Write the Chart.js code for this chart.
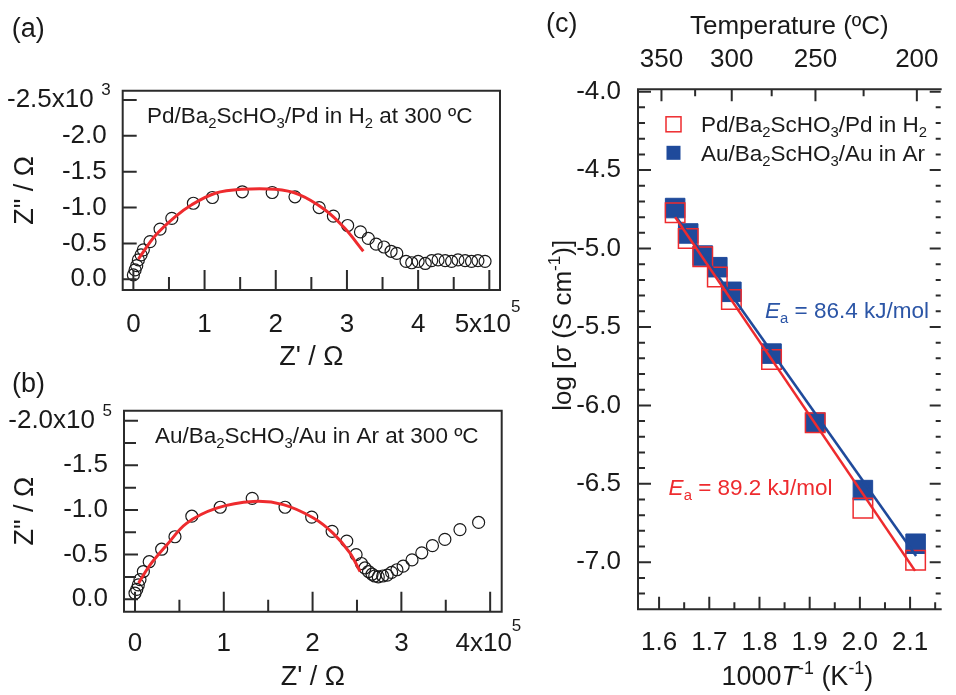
<!DOCTYPE html>
<html>
<head>
<meta charset="utf-8">
<title>Ba2ScHO3 impedance and conductivity</title>
<script src="https://cdn.jsdelivr.net/npm/chart.js@4.4.0/dist/chart.umd.min.js"></script>
<style>
  html, body { margin: 0; background: #fff; }
  #figure { position: relative; width: 956px; height: 695px; }
  #figure canvas { position: absolute; left: 0; top: 0; }
</style>
</head>
<body>
<div id="figure">
  <canvas id="chartA" width="956" height="695"></canvas>
  <canvas id="chartB" width="956" height="695"></canvas>
  <canvas id="chartC" width="956" height="695"></canvas>
</div>
<script>
// (a) Pd/Ba2ScHO3/Pd in H2 at 300 ºC  (Z' in units of 1e5, Z'' in the units printed on the axis)
const aZre = [0.00, 0.024, 0.047, 0.07, 0.108, 0.14, 0.234, 0.375, 0.54, 0.843, 1.11, 1.53, 1.95, 2.27, 2.61, 2.81, 3.01, 3.19,
  3.30, 3.41, 3.52, 3.62, 3.70, 3.83, 3.91, 4.00, 4.10, 4.19, 4.28, 4.38, 4.47, 4.56, 4.66, 4.75, 4.84, 4.94];
const aZim = [-0.06, -0.13, -0.19, -0.27, -0.34, -0.41, -0.525, -0.70, -0.85, -1.06, -1.14, -1.22, -1.21, -1.15, -1.00, -0.88, -0.75, -0.66,
  -0.57, -0.49, -0.45, -0.39, -0.36, -0.25, -0.23, -0.25, -0.22, -0.26, -0.27, -0.26, -0.25, -0.27, -0.26, -0.25, -0.26, -0.25];
const aFitRe = [0.07, 0.30, 0.585, 0.82, 1.15, 1.52, 1.99, 2.32, 2.69, 2.97, 3.23];
const aFitIm = [-0.28, -0.60, -0.87, -1.04, -1.20, -1.255, -1.255, -1.185, -0.97, -0.71, -0.39];
const aXTicks = [0, 1, 2, 3, 4, 5];
const aXMinor = [0.5, 1.5, 2.5, 3.5, 4.5];
const aYTicks = [0, -0.5, -1.0, -1.5, -2.0, -2.5];

// (b) Au/Ba2ScHO3/Au in Ar at 300 ºC
const bZre = [0.00, 0.02, 0.037, 0.056, 0.094, 0.16, 0.30, 0.45, 0.64, 0.96, 1.32, 1.69, 1.99, 2.22, 2.385, 2.49, 2.55,
  2.59, 2.63, 2.67, 2.70, 2.74, 2.79, 2.84, 2.89, 2.95, 3.02, 3.12, 3.23, 3.35, 3.49, 3.66, 3.87];
const bZim = [-0.067, -0.11, -0.16, -0.22, -0.31, -0.42, -0.56, -0.70, -0.93, -1.03, -1.13, -1.03, -0.92, -0.76, -0.65, -0.50, -0.40,
  -0.35, -0.31, -0.28, -0.26, -0.25, -0.26, -0.27, -0.30, -0.33, -0.37, -0.44, -0.52, -0.60, -0.67, -0.78, -0.86];
const bFitRe = [0.04, 0.17, 0.36, 0.58, 0.92, 1.33, 1.67, 2.01, 2.23, 2.42, 2.535];
const bFitIm = [-0.18, -0.385, -0.61, -0.85, -1.02, -1.095, -1.06, -0.91, -0.74, -0.52, -0.31];
const bXTicks = [0, 1, 2, 3, 4];
const bXMinor = [0.5, 1.5, 2.5, 3.5];
const bYTicks = [0, -0.5, -1.0, -1.5, -2.0];
const bYMinor = [-0.25, -0.75, -1.25, -1.75];

// (c) Arrhenius plot
const cInvT = [1.632, 1.658, 1.687, 1.716, 1.744, 1.824, 1.911, 2.006, 2.111];
const cLogPd = [-4.772, -4.936, -5.053, -5.181, -5.325, -5.708, -6.110, -6.655, -6.987];
const cLogAu = [-4.742, -4.904, -5.045, -5.119, -5.276, -5.670, -6.110, -6.540, -6.882];
const cFitPdX = [1.632, 2.110];
const cFitPdY = [-4.80, -7.055];
const cFitAuX = [1.632, 2.112];
const cFitAuY = [-4.79, -6.96];
const cXTicks = [1.6, 1.7, 1.8, 1.9, 2.0, 2.1];
const cXMinor = [1.65, 1.75, 1.85, 1.95, 2.05, 2.15];
const cYTicks = [-4.0, -4.5, -5.0, -5.5, -6.0, -6.5, -7.0];
const cYMinor = [-4.1, -4.2, -4.3, -4.4, -4.6, -4.7, -4.8, -4.9, -5.1, -5.2, -5.3, -5.4, -5.6, -5.7, -5.8, -5.9,
  -6.1, -6.2, -6.3, -6.4, -6.6, -6.7, -6.8, -6.9, -7.1, -7.2];
const cTempTicks = [350, 300, 250, 200];
const cTempMinor = [325, 275, 225];

const FONT = "'Liberation Sans', Arial, Helvetica, sans-serif";
const INK = "#1a1a1a";
const AXIS = "#2b2b2b";
const RED = "#ee2b2e";
const BLUE = "#1f4a9b";
const BLUE_TEXT = "#2b55a6";
const TICK_SIZE = 26;
const TITLE_SIZE = 27;
const NOTE_SIZE = 22.5;
const SP = "\u2002";

function points(xs, ys) {
  return xs.map((x, i) => ({ x, y: ys[i] }));
}

function toKelvinInverse(celsius) {
  return 1000 / (celsius + 273.15);
}

function partFont(kind, size) {
  const small = kind === "sub" || kind === "sup";
  return `${kind === "i" ? "italic " : ""}${small ? size * 0.66 : size}px ${FONT}`;
}

function drawRich(ctx, parts, x, y, size, color, align = "left") {
  ctx.save();
  ctx.fillStyle = color;
  ctx.textAlign = "left";
  ctx.textBaseline = "alphabetic";
  let width = 0;
  parts.forEach(([text, kind]) => {
    ctx.font = partFont(kind, size);
    width += ctx.measureText(text).width;
  });
  let cursor = align === "center" ? x - width / 2 : x;
  parts.forEach(([text, kind]) => {
    ctx.font = partFont(kind, size);
    const shift = kind === "sub" ? size * 0.22 : kind === "sup" ? -size * 0.42 : 0;
    ctx.fillText(text, cursor, y + shift);
    cursor += ctx.measureText(text).width;
  });
  ctx.restore();
}

function drawFrame(ctx, area, sides) {
  ctx.save();
  ctx.strokeStyle = AXIS;
  ctx.lineWidth = 2;
  ctx.lineCap = "square";
  ctx.beginPath();
  if (sides.includes("top")) { ctx.moveTo(area.left, area.top); ctx.lineTo(area.right, area.top); }
  if (sides.includes("bottom")) { ctx.moveTo(area.left, area.bottom); ctx.lineTo(area.right, area.bottom); }
  if (sides.includes("left")) { ctx.moveTo(area.left, area.top); ctx.lineTo(area.left, area.bottom); }
  if (sides.includes("right")) { ctx.moveTo(area.right, area.top); ctx.lineTo(area.right, area.bottom); }
  ctx.stroke();
  ctx.restore();
}

function innerTicks(ctx, area, scale, side, values, len) {
  ctx.save();
  ctx.strokeStyle = AXIS;
  ctx.lineWidth = 2;
  ctx.beginPath();
  values.forEach((value) => {
    const p = scale.getPixelForValue(value);
    if (side === "bottom") { ctx.moveTo(p, area.bottom); ctx.lineTo(p, area.bottom - len); }
    if (side === "top") { ctx.moveTo(p, area.top); ctx.lineTo(p, area.top + len); }
    if (side === "left") { ctx.moveTo(area.left, p); ctx.lineTo(area.left + len, p); }
    if (side === "right") { ctx.moveTo(area.right, p); ctx.lineTo(area.right - len, p); }
  });
  ctx.stroke();
  ctx.restore();
}

// the "x10^n" exponent that follows the last tick label of a panel
function supOnYTick(chart, scale, value, sup) {
  const ctx = chart.ctx;
  ctx.save();
  ctx.font = `${TICK_SIZE}px ${FONT}`;
  const gap = ctx.measureText(SP).width;
  ctx.restore();
  const x = chart.chartArea.left - scale.options.ticks.padding - gap - 0.5;
  const y = scale.getPixelForValue(value) - 5;
  drawRich(ctx, [[sup, ""]], x, y, 17, INK);
}

function supOnXTick(chart, scale, value, sup) {
  const ctx = chart.ctx;
  const tick = scale.ticks.find((t) => t.value === value);
  ctx.save();
  ctx.font = `${TICK_SIZE}px ${FONT}`;
  const full = ctx.measureText(tick.label).width;
  const base = ctx.measureText(tick.label.slice(0, -1)).width;
  ctx.restore();
  const x = scale.getPixelForValue(value) - full / 2 + base;
  const y = chart.chartArea.bottom + scale.options.ticks.padding + TICK_SIZE * 0.6 - 5;
  drawRich(ctx, [[sup, ""]], x, y, 17, INK);
}

function tickFont() {
  return { family: FONT, size: TICK_SIZE };
}

function titleFont() {
  return { family: FONT, size: TITLE_SIZE };
}

function fixedTicks(values) {
  return (scale) => { scale.ticks = values.map((value) => ({ value })); };
}

function nyquistScales(cfg) {
  return {
    x: {
      type: "linear",
      min: cfg.xMin,
      max: cfg.xMax,
      afterFit: (scale) => { scale.height = cfg.xHeight; },
      afterBuildTicks: fixedTicks(cfg.xTicks),
      grid: { display: false },
      border: { display: false },
      ticks: {
        font: tickFont(), color: INK, padding: cfg.xPad, maxRotation: 0, autoSkip: false,
        callback: (v) => (v === cfg.xTicks[cfg.xTicks.length - 1] ? `${v}x10${SP}` : String(v))
      },
      title: { display: true, text: "Z' / Ω", font: titleFont(), color: INK, padding: { top: 0, bottom: cfg.xTitlePad } }
    },
    y: {
      type: "linear",
      reverse: true,
      min: cfg.yMin,
      max: cfg.yMax,
      afterFit: (scale) => { scale.width = 115; },
      afterBuildTicks: fixedTicks(cfg.yTicks),
      grid: { display: false },
      border: { display: false },
      ticks: {
        font: tickFont(), color: INK, padding: 8, autoSkip: false,
        callback: (v) => (v === cfg.yTicks[cfg.yTicks.length - 1] ? `${v.toFixed(1)}x10${SP}` : v.toFixed(1))
      },
      title: { display: true, text: "Z\" / Ω", font: titleFont(), color: INK, padding: { top: cfg.yTitlePad, bottom: 0 } }
    }
  };
}

const commonOptions = {
  animation: false,
  responsive: false,
  events: [],
  plugins: { legend: { display: false }, tooltip: { enabled: false } }
};

const decorA = {
  id: "decorA",
  afterDraw(chart) {
    const { ctx, chartArea: area, scales: { x, y } } = chart;
    drawFrame(ctx, area, ["top", "right", "bottom", "left"]);
    innerTicks(ctx, area, x, "bottom", aXTicks, 20);
    innerTicks(ctx, area, x, "bottom", aXMinor, 13);
    innerTicks(ctx, area, y, "left", aYTicks, 14);
    supOnYTick(chart, y, -2.5, "3");
    supOnXTick(chart, x, 5, "5");
    drawRich(ctx, [["Pd/Ba", ""], ["2", "sub"], ["ScHO", ""], ["3", "sub"], ["/Pd in H", ""], ["2", "sub"], [" at 300 ºC", ""]],
      x.getPixelForValue(0.19), y.getPixelForValue(-2.18), NOTE_SIZE, INK);
    drawRich(ctx, [["(a)", ""]], area.left - 111, area.top - 54, TITLE_SIZE, INK);
  }
};

const decorB = {
  id: "decorB",
  afterDraw(chart) {
    const { ctx, chartArea: area, scales: { x, y } } = chart;
    drawFrame(ctx, area, ["top", "right", "bottom", "left"]);
    innerTicks(ctx, area, x, "bottom", bXTicks, 20);
    innerTicks(ctx, area, x, "bottom", bXMinor, 12);
    innerTicks(ctx, area, y, "left", bYTicks, 14);
    innerTicks(ctx, area, y, "left", bYMinor, 12);
    supOnYTick(chart, y, -2.0, "5");
    supOnXTick(chart, x, 4, "5");
    drawRich(ctx, [["Au/Ba", ""], ["2", "sub"], ["ScHO", ""], ["3", "sub"], ["/Au in Ar at 300 ºC", ""]],
      x.getPixelForValue(0.225), y.getPixelForValue(-1.75), NOTE_SIZE, INK);
    drawRich(ctx, [["(b)", ""]], area.left - 112, area.top - 19, TITLE_SIZE, INK);
  }
};

const decorC = {
  id: "decorC",
  afterDraw(chart) {
    const { ctx, chartArea: area, scales: { x, y } } = chart;
    drawFrame(ctx, area, ["top", "bottom", "left"]);
    innerTicks(ctx, area, x, "bottom", cXTicks, 12.5);
    innerTicks(ctx, area, x, "bottom", cXMinor, 7);
    innerTicks(ctx, area, y, "left", cYTicks, 13);
    innerTicks(ctx, area, y, "left", cYMinor, 7);
    innerTicks(ctx, area, y, "right", cYTicks, 11);
    innerTicks(ctx, area, y, "right", cYMinor, 5);
    innerTicks(ctx, area, x, "top", cTempTicks.map(toKelvinInverse), 12);
    innerTicks(ctx, area, x, "top", cTempMinor.map(toKelvinInverse), 7);

    // legend
    const keyX = area.left + 35.5;
    ctx.save();
    ctx.strokeStyle = RED;
    ctx.lineWidth = 1.5;
    ctx.strokeRect(keyX - 7.5, area.top + 27.5, 15, 15);
    ctx.fillStyle = BLUE;
    ctx.fillRect(keyX - 7, area.top + 56.5, 14, 14);
    ctx.restore();
    drawRich(ctx, [["Pd/Ba", ""], ["2", "sub"], ["ScHO", ""], ["3", "sub"], ["/Pd in H", ""], ["2", "sub"]],
      area.left + 63, area.top + 43, NOTE_SIZE, INK);
    drawRich(ctx, [["Au/Ba", ""], ["2", "sub"], ["ScHO", ""], ["3", "sub"], ["/Au in Ar", ""]],
      area.left + 63, area.top + 72, NOTE_SIZE, INK);

    drawRich(ctx, [["E", "i"], ["a", "sub"], [" = 86.4 kJ/mol", ""]],
      x.getPixelForValue(1.811), y.getPixelForValue(-5.446), NOTE_SIZE, BLUE_TEXT);
    drawRich(ctx, [["E", "i"], ["a", "sub"], [" = 89.2 kJ/mol", ""]],
      x.getPixelForValue(1.619), y.getPixelForValue(-6.574), NOTE_SIZE, RED);

    drawRich(ctx, [["1000", ""], ["T", "i"], ["-1", "sup"], [" (K", ""], ["-1", "sup"], [")", ""]],
      (area.left + area.right) / 2 + 8, area.bottom + 76, TITLE_SIZE, INK, "center");
    ctx.save();
    ctx.translate(area.left - 67, (area.top + area.bottom) / 2 - 24);
    ctx.rotate(-Math.PI / 2);
    drawRich(ctx, [["log [", ""], ["σ", "i"], [" (S cm", ""], ["-1", "sup"], [")]", ""]], 0, 0, 26, INK, "center");
    ctx.restore();
    drawRich(ctx, [["(c)", ""]], area.left - 92, area.top - 57, TITLE_SIZE, INK);
  }
};

new Chart(document.getElementById("chartA"), {
  type: "scatter",
  data: {
    datasets: [
      { data: points(aFitRe, aFitIm), showLine: true, borderColor: RED, borderWidth: 3, pointRadius: 0, tension: 0.35 },
      { data: points(aZre, aZim), pointStyle: "circle", pointRadius: 6, borderColor: INK, borderWidth: 1.2, backgroundColor: "rgba(0,0,0,0)" }
    ]
  },
  options: {
    ...commonOptions,
    layout: { padding: { left: 7.7, top: 90.7, right: 456, bottom: 315 } },
    scales: nyquistScales({
      xMin: -0.15, xMax: 5.15, xTicks: aXTicks, xHeight: 90, xPad: 11, xTitlePad: 6,
      yMin: -2.63, yMax: 0.15, yTicks: aYTicks, yTitlePad: 2
    })
  },
  plugins: [decorA]
});

new Chart(document.getElementById("chartB"), {
  type: "scatter",
  data: {
    datasets: [
      { data: points(bFitRe, bFitIm), showLine: true, borderColor: RED, borderWidth: 3, pointRadius: 0, tension: 0.35 },
      { data: points(bZre, bZim), pointStyle: "circle", pointRadius: 6, borderColor: INK, borderWidth: 1.2, backgroundColor: "rgba(0,0,0,0)" }
    ]
  },
  options: {
    ...commonOptions,
    layout: { padding: { left: 9, top: 410.7, right: 454.3, bottom: 0 } },
    scales: nyquistScales({
      xMin: -0.124, xMax: 4.13, xTicks: bXTicks, xHeight: 83.3, xPad: 8.4, xTitlePad: 1.4,
      yMin: -2.112, yMax: 0.14, yTicks: bYTicks, yTitlePad: 0.5
    })
  },
  plugins: [decorB]
});

new Chart(document.getElementById("chartC"), {
  type: "scatter",
  data: {
    datasets: [
      { data: points(cFitPdX, cFitPdY), showLine: true, borderColor: RED, borderWidth: 2.6, pointRadius: 0 },
      { data: points(cFitAuX, cFitAuY), showLine: true, borderColor: BLUE, borderWidth: 2.6, pointRadius: 0 },
      { data: points(cInvT, cLogPd), pointStyle: "rect", pointRadius: 13.8, borderColor: RED, borderWidth: 1.5, backgroundColor: "rgba(0,0,0,0)" },
      { data: points(cInvT, cLogAu), pointStyle: "rect", pointRadius: 13.8, borderColor: BLUE, borderWidth: 1, backgroundColor: BLUE }
    ]
  },
  options: {
    ...commonOptions,
    layout: { padding: { left: 538, top: 0, right: 0.5, bottom: 0 } },
    scales: {
      x: {
        type: "linear",
        min: 1.558,
        max: 2.161,
        afterFit: (scale) => { scale.height = 85.7; },
        afterBuildTicks: fixedTicks(cXTicks),
        grid: { display: false },
        border: { display: false },
        ticks: { font: tickFont(), color: INK, padding: 10, maxRotation: 0, autoSkip: false, callback: (v) => v.toFixed(1) }
      },
      x2: {
        type: "linear",
        position: "top",
        min: 1.558,
        max: 2.161,
        afterFit: (scale) => { scale.height = 89.3; },
        afterBuildTicks: fixedTicks(cTempTicks.map(toKelvinInverse)),
        grid: { display: false },
        border: { display: false },
        ticks: { font: tickFont(), color: INK, padding: 5.7, maxRotation: 0, autoSkip: false, callback: (v, i) => String(cTempTicks[i]) },
        title: { display: true, text: "Temperature (ºC)", font: { family: FONT, size: TICK_SIZE }, color: INK, padding: { top: 11, bottom: 0 } }
      },
      y: {
        type: "linear",
        min: -7.3,
        max: -3.985,
        afterFit: (scale) => { scale.width = 100; },
        afterBuildTicks: fixedTicks(cYTicks),
        grid: { display: false },
        border: { display: false },
        ticks: { font: tickFont(), color: INK, padding: 9, autoSkip: false, callback: (v) => v.toFixed(1) }
      }
    }
  },
  plugins: [decorC]
});
</script>
</body>
</html>
